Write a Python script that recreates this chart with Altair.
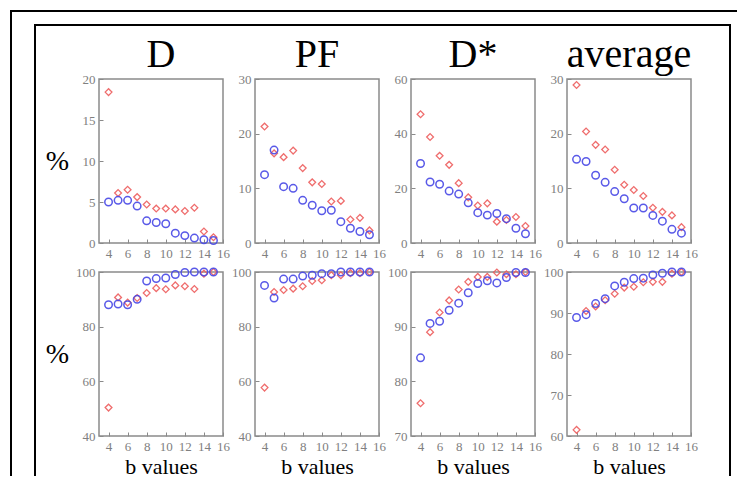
import altair as alt
import pandas as pd

b_values = list(range(4, 16))
x_ticks = [4, 6, 8, 10, 12, 14, 16]
titles = ["D", "PF", "D*", "average"]

# top row
D_top_red = [18.4, 6.1, 6.5, 5.6, 4.7, 4.2, 4.2, 4.1, 3.9, 4.3, 1.4, 0.7]
D_top_blue = [5.0, 5.2, 5.2, 4.5, 2.7, 2.5, 2.35, 1.2, 0.9, 0.6, 0.4, 0.3]
PF_top_red = [21.3, 16.4, 15.7, 16.9, 13.7, 11.1, 10.8, 7.6, 7.7, 4.3, 4.6, 2.3]
PF_top_blue = [12.5, 17.0, 10.3, 10.0, 7.8, 6.9, 5.9, 6.0, 3.9, 2.7, 2.1, 1.5]
Ds_top_red = [47.1, 38.8, 31.9, 28.6, 21.9, 16.7, 13.7, 14.5, 7.8, 8.4, 9.5, 6.2]
Ds_top_blue = [29.1, 22.3, 21.5, 19.0, 17.9, 14.7, 11.1, 10.2, 10.8, 8.9, 5.4, 3.4]
avg_top_red = [28.9, 20.4, 17.95, 17.1, 13.4, 10.65, 9.7, 8.6, 6.45, 5.7, 5.05, 2.9]
avg_top_blue = [15.3, 14.9, 12.4, 11.1, 9.4, 8.1, 6.4, 6.4, 5.05, 4.0, 2.5, 1.8]

# bottom row
D_bot_red = [50.4, 90.7, 88.8, 90.5, 92.3, 94.1, 93.7, 95.1, 94.8, 93.8, 99.4, 100]
D_bot_blue = [88.0, 88.3, 88.0, 90.0, 96.7, 97.6, 97.8, 99.1, 99.8, 100, 100, 100]
PF_bot_red = [57.7, 92.7, 93.4, 93.9, 94.8, 96.7, 97.0, 98.8, 98.8, 99.6, 99.6, 100]
PF_bot_blue = [95.1, 90.5, 97.4, 97.4, 98.5, 98.8, 99.4, 99.4, 100, 100, 100, 100]
Ds_bot_red = [76.0, 89.0, 92.6, 94.8, 96.8, 98.2, 99.1, 99.1, 99.9, 99.6, 99.6, 100]
Ds_bot_blue = [84.3, 90.6, 91.0, 93.0, 94.3, 96.2, 97.9, 98.4, 98.0, 99.0, 99.9, 99.9]
avg_bot_red = [61.5, 90.5, 91.6, 93.1, 94.7, 96.2, 96.4, 97.5, 97.6, 97.6, 99.6, 100]
avg_bot_blue = [88.9, 89.6, 92.3, 93.5, 96.6, 97.5, 98.4, 98.5, 99.3, 99.7, 100, 100]

y_domains_top = [[0, 20], [0, 30], [0, 60], [0, 30]]
y_ticks_top = [[0, 5, 10, 15, 20], [0, 10, 20, 30], [0, 20, 40, 60], [0, 10, 20, 30]]
y_domains_bot = [[40, 100], [40, 100], [70, 100], [60, 100]]
y_ticks_bot = [[40, 60, 80, 100], [40, 60, 80, 100], [70, 80, 90, 100], [60, 70, 80, 90, 100]]

RED = "#EE5E5E"
BLUE = "#4848E6"
SERIF = "Liberation Serif"
W, H = 124, 164

axis_common = dict(
    grid=False, domain=False, ticks=True, tickSize=4, tickColor="#8a8a8a",
    offset=-4, labelFont=SERIF, labelFontSize=13, labelColor="#808080",
    labelPadding=4, labelFlush=False, labelOverlap=False,
)


def frame_rule(x1, x2, y1, y2):
    return alt.Chart(alt.Data(values=[{"k": 1}])).mark_rule(
        color="black", strokeWidth=2, strokeCap="square"
    ).encode(x=alt.value(x1), x2=alt.value(x2), y=alt.value(y1), y2=alt.value(y2))


def panel(red, blue, ydom, yticks, title=None, ytitle=False, xtitle=False, frame=False):
    df = pd.DataFrame({
        "b": b_values + b_values,
        "v": red + blue,
        "s": ["red"] * len(red) + ["blue"] * len(blue),
    })
    if ytitle:
        yax = alt.Axis(values=yticks, title="%", titleAngle=0, titleFont=SERIF,
                       titleFontSize=28, titleFontWeight="normal", titleColor="black",
                       titleAlign="center", titleBaseline="middle",
                       titleX=-46, titleY=H / 2, **axis_common)
    else:
        yax = alt.Axis(values=yticks, title=None, **axis_common)
    if xtitle:
        xax = alt.Axis(values=x_ticks, title="b values", titleFont=SERIF,
                       titleFontSize=22, titleFontWeight="normal", titleColor="black",
                       titleBaseline="alphabetic", titleY=41, **axis_common)
    else:
        xax = alt.Axis(values=x_ticks, title=None, **axis_common)
    xenc = alt.X("b:Q", scale=alt.Scale(domain=[3, 16], nice=False, zero=False), axis=xax)
    yenc = alt.Y("v:Q", scale=alt.Scale(domain=ydom, nice=False, zero=False), axis=yax)
    base = alt.Chart(df)
    red_layer = base.transform_filter(alt.datum.s == "red").mark_point(
        shape="diamond", filled=False, color=RED, size=46, strokeWidth=1.3, opacity=0.9
    ).encode(x=xenc, y=yenc)
    blue_layer = base.transform_filter(alt.datum.s == "blue").mark_point(
        shape="circle", filled=False, color=BLUE, size=56, strokeWidth=1.5, opacity=0.9
    ).encode(x=xenc, y=yenc)
    layers = [red_layer, blue_layer]
    if frame:
        # decorative double frame around the figure (relative to bottom-left panel)
        layers = [
            frame_rule(-88, 637, -261, -261),
            frame_rule(-88, -88, -261, 203),
            frame_rule(-64, 631, -247, -247),
            frame_rule(-64, -64, -247, 203),
            frame_rule(631, 631, -247, 203),
        ] + layers
    ch = alt.layer(*layers).properties(width=W, height=H)
    if title:
        ch = ch.properties(title=alt.TitleParams(
            text=title, font=SERIF, fontSize=40, fontWeight="normal", color="black",
            anchor="middle", frame="group", baseline="alphabetic", offset=-34))
    return ch


tops = [(D_top_red, D_top_blue), (PF_top_red, PF_top_blue),
        (Ds_top_red, Ds_top_blue), (avg_top_red, avg_top_blue)]
bots = [(D_bot_red, D_bot_blue), (PF_bot_red, PF_bot_blue),
        (Ds_bot_red, Ds_bot_blue), (avg_bot_red, avg_bot_blue)]

charts = []
for i, (r, bl) in enumerate(tops):
    charts.append(panel(r, bl, y_domains_top[i], y_ticks_top[i], title=titles[i],
                        ytitle=(i == 0)))
for i, (r, bl) in enumerate(bots):
    charts.append(panel(r, bl, y_domains_bot[i], y_ticks_bot[i],
                        ytitle=(i == 0), xtitle=True, frame=(i == 0)))

chart = alt.concat(*charts, columns=4, spacing={"row": 29, "column": 32}, bounds="flush").properties(
    padding=0, background="white"
).configure(font=SERIF).configure_axis(
    labelFont=SERIF, titleFont=SERIF
).configure_title(font=SERIF).configure_view(stroke="#8a8a8a", strokeWidth=1.5)

chart.save("out.html", embed_options={"renderer": "svg", "actions": False})
